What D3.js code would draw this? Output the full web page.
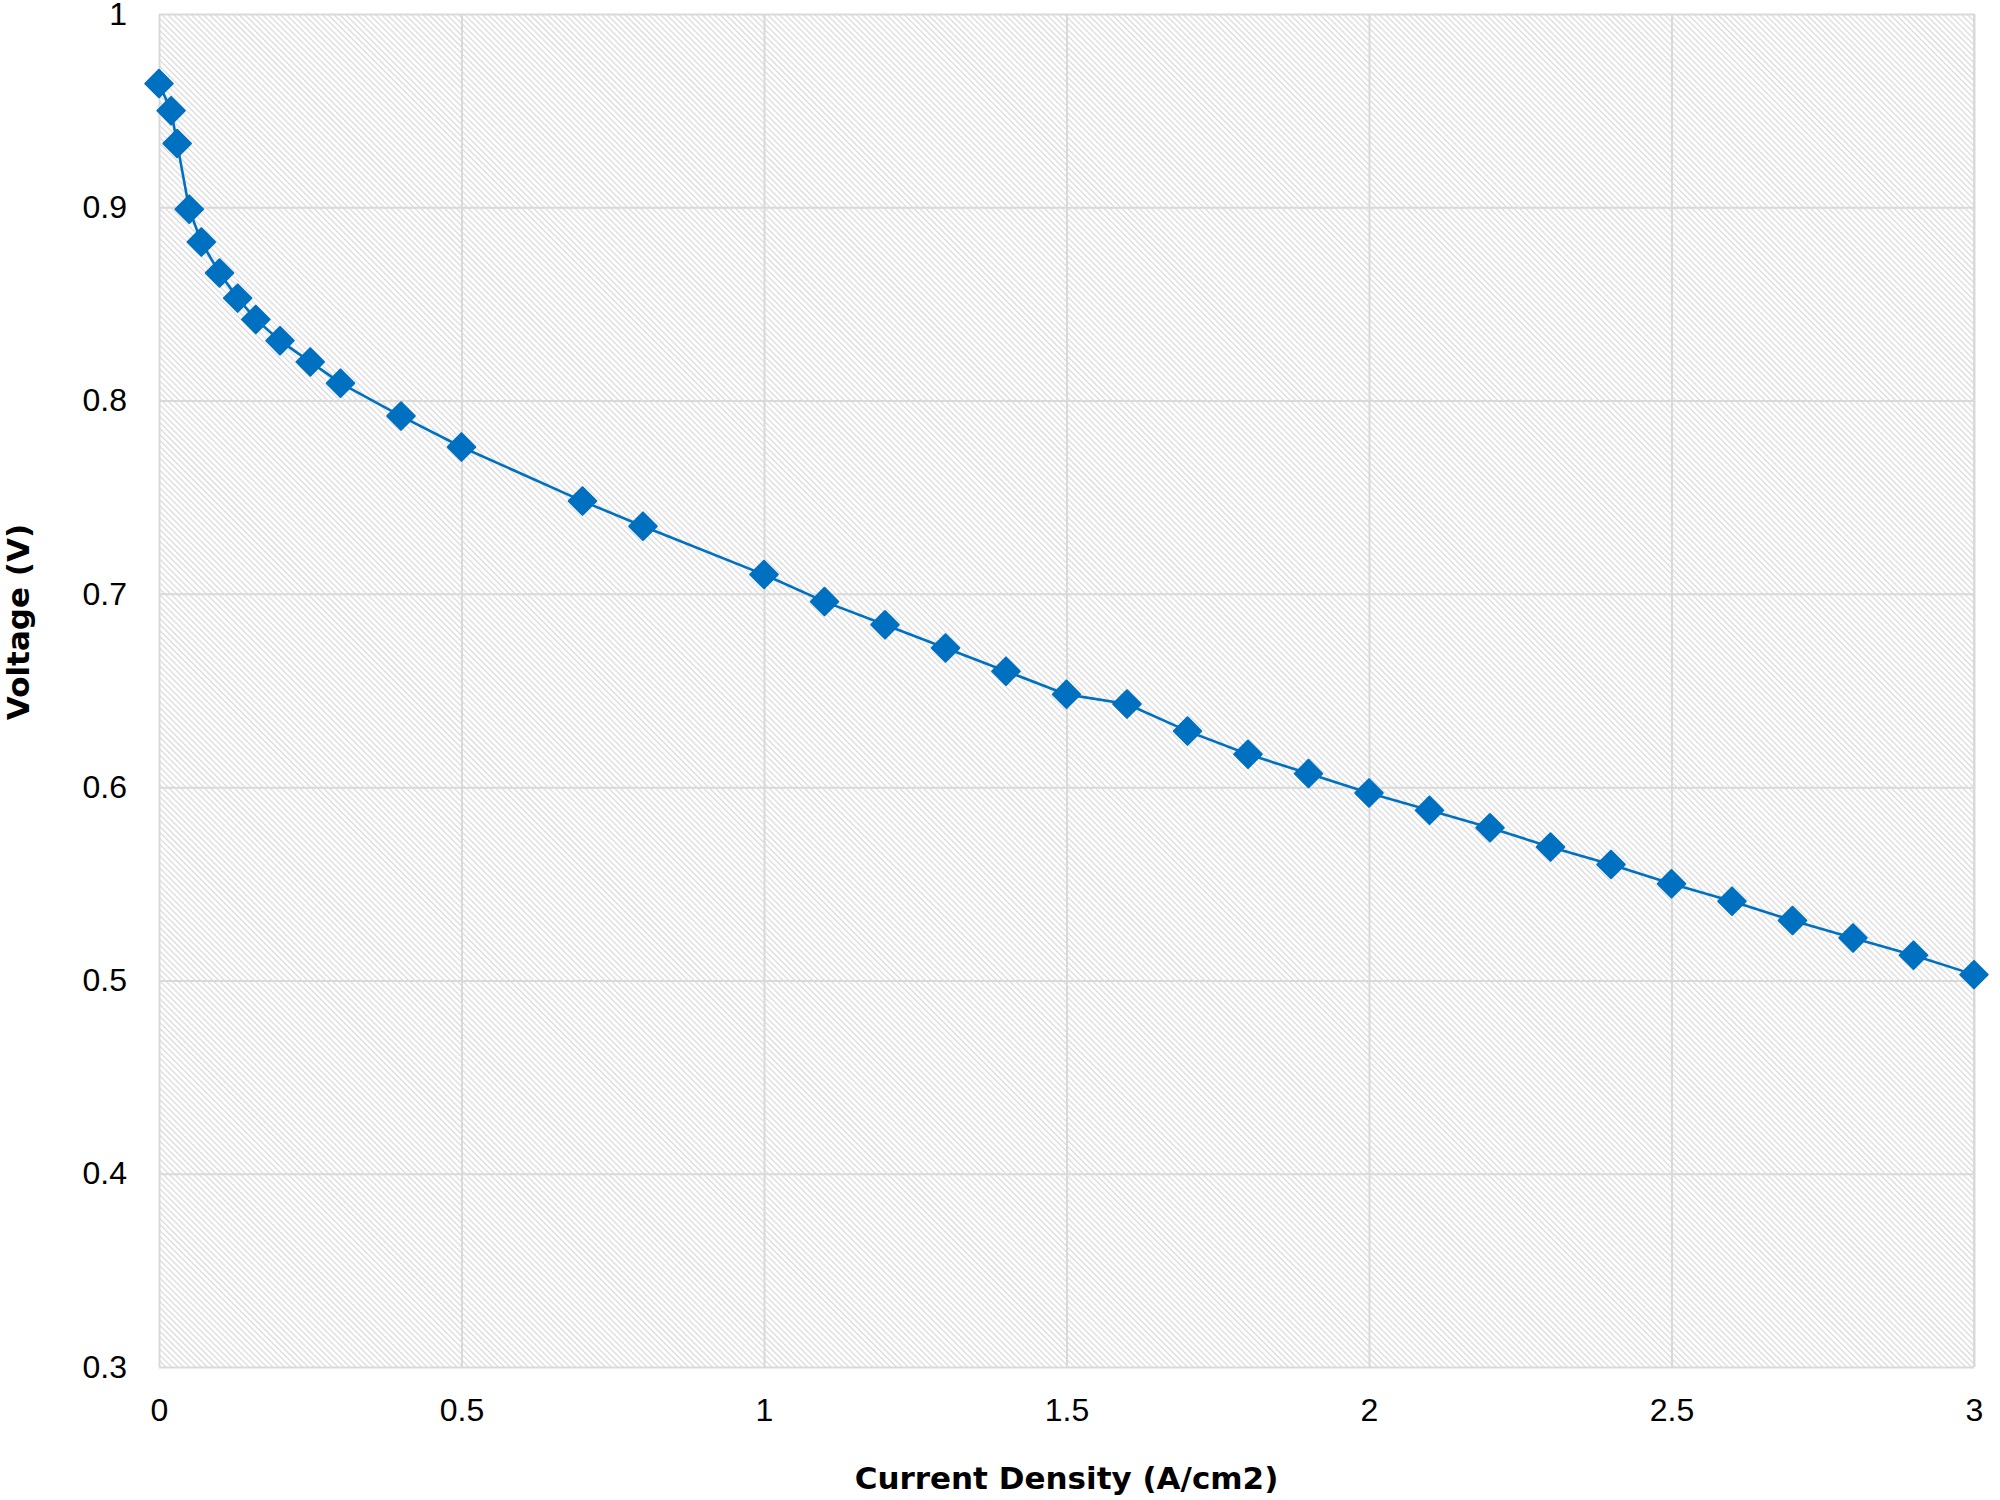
<!DOCTYPE html>
<html lang="en">
<head>
    <meta charset="UTF-8">
    <title>Polarization Curve</title>
    <script src="https://d3js.org/d3.v7.min.js"></script>
    <style>
        body { margin: 0; background: #fff; }
        .grid line { stroke: #d9d9d9; stroke-width: 2; }
        .grid path { display: none; }
        .tick-label text { font-family: "Liberation Sans", Arial, sans-serif; font-size: 32px; fill: #000; }
        .axis-name { font-family: "DejaVu Sans", sans-serif; font-weight: bold; font-size: 31px; fill: #000; text-anchor: middle; }
    </style>
</head>
<body>
<script>
    // values
    const currentDensity = [0, 0.02, 0.03, 0.05, 0.07, 0.1, 0.13, 0.16, 0.2, 0.25, 0.3, 0.4, 0.5, 0.7, 0.8,
        1.0, 1.1, 1.2, 1.3, 1.4, 1.5, 1.6, 1.7, 1.8, 1.9, 2.0, 2.1, 2.2, 2.3, 2.4, 2.5, 2.6, 2.7, 2.8, 2.9, 3.0];
    const voltage = [0.964, 0.950, 0.933, 0.899, 0.882, 0.866, 0.853, 0.842, 0.831, 0.820, 0.809, 0.792, 0.776, 0.748, 0.735,
        0.710, 0.696, 0.684, 0.672, 0.660, 0.648, 0.643, 0.629, 0.617, 0.607, 0.597, 0.588, 0.579, 0.569, 0.560, 0.550, 0.541, 0.531, 0.522, 0.513, 0.503];
    const xTicks = [0, 0.5, 1, 1.5, 2, 2.5, 3];
    const yTicks = [0.3, 0.4, 0.5, 0.6, 0.7, 0.8, 0.9, 1];

    const points = currentDensity.map((x, i) => ({ x: x, v: voltage[i] }));

    const plotLeft = 159, plotRight = 1974, plotTop = 14, plotBottom = 1367;

    const svg = d3.select('body').append('svg')
        .attr('width', 2000)
        .attr('height', 1500);

    const xScale = d3.scaleLinear().domain([0, 3]).range([plotLeft, plotRight]);
    const yScale = d3.scaleLinear().domain([0.3, 1]).range([plotBottom, plotTop]);

    // hatched plot background
    svg.append('defs').append('pattern')
        .attr('id', 'hatch')
        .attr('patternUnits', 'userSpaceOnUse')
        .attr('width', 8).attr('height', 4.2)
        .attr('patternTransform', 'rotate(45)')
        .append('line')
        .attr('x1', 0).attr('y1', 1).attr('x2', 8).attr('y2', 1)
        .attr('stroke', '#d0d0d0')
        .attr('stroke-width', 1);

    svg.append('rect')
        .attr('x', plotLeft).attr('y', plotTop)
        .attr('width', plotRight - plotLeft).attr('height', plotBottom - plotTop)
        .attr('fill', '#fff');
    svg.append('rect')
        .attr('x', plotLeft).attr('y', plotTop)
        .attr('width', plotRight - plotLeft).attr('height', plotBottom - plotTop)
        .attr('fill', 'url(#hatch)');

    // grid + tick labels
    svg.append('g')
        .attr('class', 'grid tick-label')
        .attr('transform', `translate(0,${plotBottom})`)
        .call(d3.axisBottom(xScale).tickValues(xTicks).tickSize(-(plotBottom - plotTop)).tickPadding(31).tickFormat(d3.format('~f')));

    svg.append('g')
        .attr('class', 'grid tick-label')
        .attr('transform', `translate(${plotLeft},0)`)
        .call(d3.axisLeft(yScale).tickValues(yTicks).tickSize(-(plotRight - plotLeft)).tickPadding(32).tickFormat(d3.format('~f')));

    // right border of the plot
    svg.append('line')
        .attr('x1', plotRight).attr('x2', plotRight)
        .attr('y1', plotTop).attr('y2', plotBottom)
        .attr('stroke', '#d9d9d9').attr('stroke-width', 2);

    const line = d3.line()
        .x(d => xScale(d.x))
        .y(d => yScale(d.v));

    svg.append('path')
        .datum(points)
        .attr('fill', 'none')
        .attr('stroke', '#0070c0')
        .attr('stroke-width', 2.6)
        .attr('d', line);

    const diamond = d3.symbol().type(d3.symbolSquare).size(380);

    svg.selectAll('.marker')
        .data(points)
        .enter().append('path')
        .attr('class', 'marker')
        .attr('d', diamond)
        .attr('transform', d => `translate(${xScale(d.x)},${yScale(d.v)}) rotate(45)`)
        .attr('fill', '#0070c0')
        .attr('stroke', '#0070c0')
        .attr('stroke-width', 2)
        .attr('stroke-linejoin', 'round');

    svg.append('text')
        .attr('class', 'axis-name')
        .attr('x', (plotLeft + plotRight) / 2)
        .attr('y', 1489)
        .text('Current Density (A/cm2)');

    svg.append('text')
        .attr('class', 'axis-name')
        .attr('transform', 'translate(29,622) rotate(-90)')
        .text('Voltage (V)');
</script>
</body>
</html>
